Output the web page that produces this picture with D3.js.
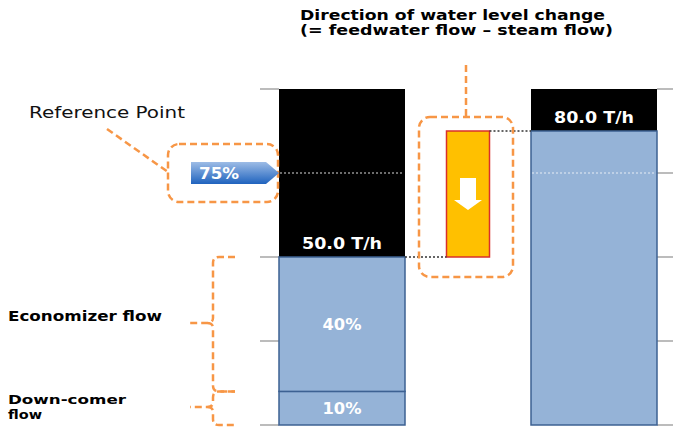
<!DOCTYPE html>
<html>
<head>
<meta charset="utf-8">
<script src="https://cdn.jsdelivr.net/npm/d3@7"></script>
<style>
  body { margin: 0; background: #fff; }
  svg { display: block; font-family: "DejaVu Sans", sans-serif; }
</style>
</head>
<body>
<svg id="chart" width="673" height="427"></svg>
<script>
// data
const bars = ["Before", "After"];
const feedwater = [50, 87.5];          // blue part (% of drum level scale)
const segments = [                      // blue sub-parts of first bar
  { name: "Down-comer", from: 0, to: 10, label: "10%" },
  { name: "Economizer", from: 10, to: 50, label: "40%" }
];
const flowLabels = ["50.0 T/h", "80.0 T/h"];
const gridTicks = [0, 25, 50, 75, 100];
const refLevel = 75;
const refLabel = "75%";
const change = { from: 50, to: 87.5 };

const svg = d3.select('#chart');
const width = +svg.attr('width');
const orange = '#F79646';

const y = d3.scaleLinear().domain([0, 100]).range([425, 89]);
const x = d3.scaleBand().domain(bars).range([279, 657]).paddingInner(0.5).paddingOuter(0);
const bw = x.bandwidth();

// gridlines only outside the bars
const grid = svg.append('g');
gridTicks.forEach(t => {
  grid.append('line').attr('x1', 260).attr('x2', x('Before')).attr('y1', y(t)).attr('y2', y(t))
    .attr('stroke', '#A6A6A6').attr('stroke-width', 1.5);
  grid.append('line').attr('x1', x('After') + bw).attr('x2', width).attr('y1', y(t)).attr('y2', y(t))
    .attr('stroke', '#A6A6A6').attr('stroke-width', 1.5);
});

// black (steam) parts
svg.selectAll('rect.steam').data(bars).enter().append('rect')
  .attr('class', 'steam')
  .attr('x', d => x(d)).attr('width', bw)
  .attr('y', y(100))
  .attr('height', (d, i) => y(feedwater[i]) - y(100))
  .attr('fill', '#000');

// blue parts
svg.selectAll('rect.seg').data(segments).enter().append('rect')
  .attr('class', 'seg')
  .attr('x', x('Before')).attr('width', bw)
  .attr('y', d => y(d.to)).attr('height', d => y(d.from) - y(d.to))
  .attr('fill', '#95B3D7').attr('stroke', '#3D6192').attr('stroke-width', 1.5);

svg.append('rect')
  .attr('x', x('After')).attr('width', bw)
  .attr('y', y(feedwater[1])).attr('height', y(0) - y(feedwater[1]))
  .attr('fill', '#95B3D7').attr('stroke', '#3D6192').attr('stroke-width', 1.5);

// reference level dotted lines inside bars
bars.forEach((b, i) => {
  svg.append('line')
    .attr('x1', x(b) + 1).attr('x2', x(b) + bw - 1)
    .attr('y1', y(refLevel)).attr('y2', y(refLevel))
    .attr('stroke', i === 0 ? '#d9d9d9' : '#e8eef6').attr('stroke-width', 1.2)
    .attr('stroke-dasharray', '2,2');
});

// bar texts
const barText = (sel, len) => sel.attr('text-anchor', 'middle').attr('fill', '#fff')
  .attr('font-weight', 'bold').attr('font-size', 15)
  .attr('textLength', len).attr('lengthAdjust', 'spacingAndGlyphs');

svg.selectAll('text.seg').data(segments).enter().append('text')
  .attr('x', x('Before') + bw / 2).attr('y', d => (y(d.from) + y(d.to)) / 2 + 6)
  .call(barText, 39)
  .text(d => d.label);

svg.append('text')
  .attr('x', x('Before') + bw / 2).attr('y', y(feedwater[0]) - 8)
  .call(barText, 80)
  .text(flowLabels[0]);
svg.append('text')
  .attr('x', x('After') + bw / 2).attr('y', y(feedwater[1]) - 8)
  .call(barText, 80)
  .text(flowLabels[1]);

// level change bar
const cx = (x('Before') + bw + x('After')) / 2;
const cw = 43;
svg.append('rect')
  .attr('x', cx - cw / 2).attr('width', cw)
  .attr('y', y(change.to)).attr('height', y(change.from) - y(change.to))
  .attr('fill', '#FFC000').attr('stroke', '#D9302B').attr('stroke-width', 1.5);

// connectors
svg.append('line')
  .attr('x1', x('Before') + bw).attr('x2', cx - cw / 2)
  .attr('y1', y(change.from)).attr('y2', y(change.from))
  .attr('stroke', '#333').attr('stroke-width', 1.3).attr('stroke-dasharray', '2,2');
svg.append('line')
  .attr('x1', cx + cw / 2).attr('x2', x('After'))
  .attr('y1', y(change.to)).attr('y2', y(change.to))
  .attr('stroke', '#333').attr('stroke-width', 1.3).attr('stroke-dasharray', '2,2');

// down arrow
svg.append('path')
  .attr('d', `M${cx - 8},178 L${cx + 8},178 L${cx + 8},200 L${cx + 14},200 L${cx},210 L${cx - 14},200 L${cx - 8},200 Z`)
  .attr('fill', '#fff');

// orange annotations
const dash = g => g.attr('fill', 'none').attr('stroke', orange)
  .attr('stroke-width', 2.5).attr('stroke-dasharray', '7,4');

svg.append('rect').attr('x', 419).attr('y', 117).attr('width', 94).attr('height', 160)
  .attr('rx', 11).call(dash);
svg.append('line').attr('x1', cx - 2).attr('x2', cx - 2).attr('y1', 65).attr('y2', 117).call(dash);

svg.append('rect').attr('x', 168).attr('y', 144).attr('width', 110).attr('height', 58)
  .attr('rx', 11).call(dash);
svg.append('line').attr('x1', 107).attr('y1', 129).attr('x2', 168).attr('y2', 172).call(dash);

// reference point marker
const grad = svg.append('defs').append('linearGradient')
  .attr('id', 'refgrad').attr('x1', 0).attr('y1', 0).attr('x2', 0).attr('y2', 1);
grad.append('stop').attr('offset', '0%').attr('stop-color', '#9DBCE6');
grad.append('stop').attr('offset', '100%').attr('stop-color', '#1F63BE');
const ry = y(refLevel);
svg.append('path')
  .attr('d', `M191,${ry - 11} L266,${ry - 11} L${x('Before')},${ry} L266,${ry + 11} L191,${ry + 11} Z`)
  .attr('fill', 'url(#refgrad)');
svg.append('text').attr('x', 199).attr('y', ry + 6)
  .attr('fill', '#fff').attr('font-weight', 'bold').attr('font-size', 15)
  .attr('textLength', 40).attr('lengthAdjust', 'spacingAndGlyphs')
  .text(refLabel);

// braces
const brace = (top, bot, mid) => {
  const bx = 213;
  return `M235,${top} L${bx + 6},${top} Q${bx},${top} ${bx},${top + 6} L${bx},${mid - 5} ` +
    `Q${bx},${mid} ${bx - 6},${mid} L190,${mid} M${bx - 6},${mid} Q${bx},${mid} ${bx},${mid + 5} ` +
    `L${bx},${bot - 6} Q${bx},${bot} ${bx + 6},${bot} L235,${bot}`;
};
svg.append('path').attr('d', brace(y(50), y(10), 323)).call(dash);
svg.append('path').attr('d', brace(y(10), y(0), 407)).call(dash);

// texts
svg.append('text').attr('x', 29).attr('y', 118).attr('font-size', 15)
  .attr('textLength', 156).attr('lengthAdjust', 'spacingAndGlyphs')
  .attr('fill', '#111').text('Reference Point');

svg.append('text').attr('x', 300).attr('y', 20).attr('font-size', 14).attr('font-weight', 'bold')
  .attr('textLength', 305).attr('lengthAdjust', 'spacingAndGlyphs')
  .text('Direction of water level change');
svg.append('text').attr('x', 300).attr('y', 35).attr('font-size', 14).attr('font-weight', 'bold')
  .attr('textLength', 313).attr('lengthAdjust', 'spacingAndGlyphs')
  .text('(= feedwater flow \u2013 steam flow)');

svg.append('text').attr('x', 8).attr('y', 321).attr('font-size', 14).attr('font-weight', 'bold')
  .attr('textLength', 154).attr('lengthAdjust', 'spacingAndGlyphs')
  .text('Economizer flow');
svg.append('text').attr('x', 8).attr('y', 404).attr('font-size', 13).attr('font-weight', 'bold')
  .attr('textLength', 118).attr('lengthAdjust', 'spacingAndGlyphs')
  .text('Down-comer');
svg.append('text').attr('x', 8).attr('y', 419).attr('font-size', 13).attr('font-weight', 'bold')
  .attr('textLength', 34).attr('lengthAdjust', 'spacingAndGlyphs')
  .text('flow');
</script>
</body>
</html>
